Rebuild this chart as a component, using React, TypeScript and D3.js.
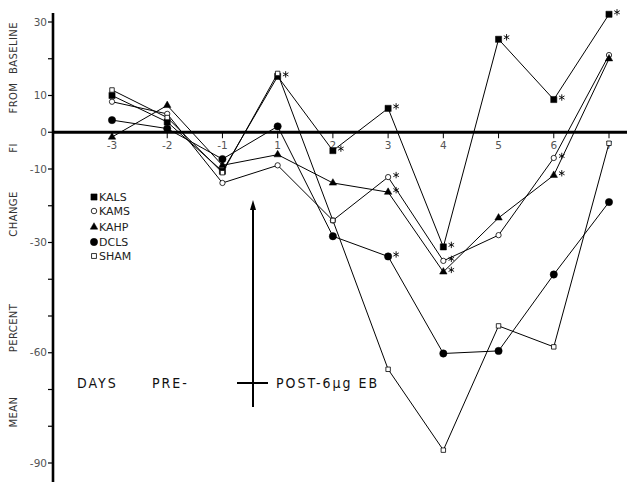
import React from "react";
import * as d3 from "d3";

const days = ["-3", "-2", "-1", "1", "2", "3", "4", "5", "6", "7"];
const kals = [10, 2.8, -10.6, 15.2, -5, 6.5, -31.2, 25.3, 8.9, 32.1];
const kams = [8.3, 5, -13.8, -9, -24, -12.2, -35, -28, -7, 21];
const kahp = [-1.3, 7.3, -9, -6.1, -13.8, -16.3, -38, -23.3, -11.7, 20];
const dcls = [3.3, 1, -7.3, 1.6, -28.3, -33.8, -60.2, -59.5, -38.7, -19];
const sham = [11.5, 4, -11, 16, -24, -64.5, -86.5, -52.7, -58.4, -3];

const kalsSig = [false, false, false, true, true, true, true, true, true, true];
const kamsSig = [false, false, false, false, false, true, true, false, true, false];
const kahpSig = [false, false, false, false, false, true, true, false, true, false];
const dclsSig = [false, false, false, false, false, true, false, false, false, false];
const shamSig = [false, false, false, false, false, false, false, false, false, false];

const yTicks = d3.range(-90, 31, 10);
const yLabels = [30, 10, 0, -10, -30, -60, -90];

const legendLabel = ["KALS", "KAMS", "KAHP", "DCLS", "SHAM"];

const W = 627;
const H = 482;

function asteriskPath(cx: number, cy: number, r: number) {
  const p = d3.path();
  for (let k = 0; k < 3; k++) {
    const a = (Math.PI / 3) * k + Math.PI / 2;
    p.moveTo(cx + r * Math.cos(a), cy + r * Math.sin(a));
    p.lineTo(cx - r * Math.cos(a), cy - r * Math.sin(a));
  }
  return p.toString();
}

export default function App() {
  const x = d3.scalePoint<string>().domain(days).range([112, 609]);
  const y = d3.scaleLinear().domain([-90, 30]).range([463, 22]);
  const axisX = 53;

  const series = [
    { name: "KALS", values: kals, sig: kalsSig, shape: d3.symbolSquare, size: 38, filled: true },
    { name: "KAMS", values: kams, sig: kamsSig, shape: d3.symbolCircle, size: 22, filled: false },
    { name: "KAHP", values: kahp, sig: kahpSig, shape: d3.symbolTriangle, size: 24, filled: true },
    { name: "DCLS", values: dcls, sig: dclsSig, shape: d3.symbolCircle, size: 42, filled: true },
    { name: "SHAM", values: sham, sig: shamSig, shape: d3.symbolSquare, size: 20, filled: false },
  ];

  const line = d3
    .line<number>()
    .x((_, i) => x(days[i]) as number)
    .y((d) => y(d));

  const legendY = [197, 211, 227, 242, 256];

  const titleWords = [
    { t: "MEAN", c: 412 },
    { t: "PERCENT", c: 328 },
    { t: "CHANGE", c: 214 },
    { t: "FI", c: 148 },
    { t: "FROM", c: 98 },
    { t: "BASELINE", c: 48 },
  ];

  return (
    <svg
      width={W}
      height={H}
      style={{ position: "absolute", left: 0, top: 0, background: "#fff" }}
      fontFamily="DejaVu Sans, sans-serif"
    >
      <rect x={0} y={0} width={W} height={H} fill="#fff" />
      {titleWords.map((w) => (
        <text
          key={w.t}
          transform={`translate(17,${w.c}) rotate(-90)`}
          textAnchor="middle"
          fontSize={10}
          fill="#333"
          letterSpacing={0.4}
        >
          {w.t}
        </text>
      ))}

      <line x1={axisX} x2={axisX} y1={13} y2={482} stroke="#000" strokeWidth={2.6} />
      {yTicks.map((t) => (
        <line key={t} x1={axisX - 5} x2={axisX} y1={y(t)} y2={y(t)} stroke="#000" strokeWidth={1.2} />
      ))}
      {yLabels.map((t) => (
        <text key={t} x={axisX - 6} y={y(t)} dy="0.35em" textAnchor="end" fontSize={10.5} fill="#555">
          {t}
        </text>
      ))}

      <line x1={axisX} x2={W} y1={y(0)} y2={y(0)} stroke="#000" strokeWidth={3} />
      {days.map((d) => (
        <g key={d}>
          <line x1={x(d)} x2={x(d)} y1={y(0)} y2={y(0) + 6} stroke="#000" strokeWidth={1} />
          <text x={x(d)} y={y(0) + 17} textAnchor="middle" fontSize={10.5} fill="#555">
            {d}
          </text>
        </g>
      ))}

      {series.map((s) => (
        <path key={s.name} d={line(s.values) || ""} fill="none" stroke="#000" strokeWidth={1} />
      ))}

      {series.map((s) =>
        s.values.map((v, i) => (
          <path
            key={s.name + i}
            d={d3.symbol().type(s.shape).size(s.size)() || ""}
            transform={`translate(${x(days[i])},${y(v)})`}
            fill={s.filled ? "#000" : "#fff"}
            stroke="#000"
            strokeWidth={s.filled ? 0.5 : 0.8}
          />
        ))
      )}

      {series.map((s) =>
        s.values.map((v, i) =>
          s.sig[i] ? (
            <path
              key={"a" + s.name + i}
              d={asteriskPath((x(days[i]) as number) + 8, y(v) - 2, 3.2)}
              stroke="#000"
              strokeWidth={0.9}
              fill="none"
            />
          ) : null
        )
      )}

      {series.map((s, i) => (
        <g key={"lg" + s.name} transform={`translate(94,${legendY[i]})`}>
          <path
            d={d3.symbol().type(s.shape).size(s.filled ? s.size : 24)() || ""}
            fill={s.filled ? "#000" : "#fff"}
            stroke="#000"
            strokeWidth={s.filled ? 0.5 : 0.8}
          />
          <text x={5} y={0} dy="0.36em" fontSize={11} fill="#222">
            {legendLabel[i]}
          </text>
        </g>
      ))}

      <line x1={253} x2={253} y1={204} y2={407} stroke="#000" strokeWidth={2} />
      <path d="M253,200 L250,210 L256,210 Z" fill="#000" />
      <line x1={237} x2={268} y1={383} y2={383} stroke="#000" strokeWidth={2} />

      <g fontFamily="DejaVu Sans Condensed, DejaVu Sans, sans-serif" fontSize={14} fill="#111" letterSpacing={2}>
        <text x={77} y={388}>DAYS</text>
        <text x={152} y={388}>PRE-</text>
        <text x={276} y={388}>POST-6µg EB</text>
      </g>
    </svg>
  );
}
